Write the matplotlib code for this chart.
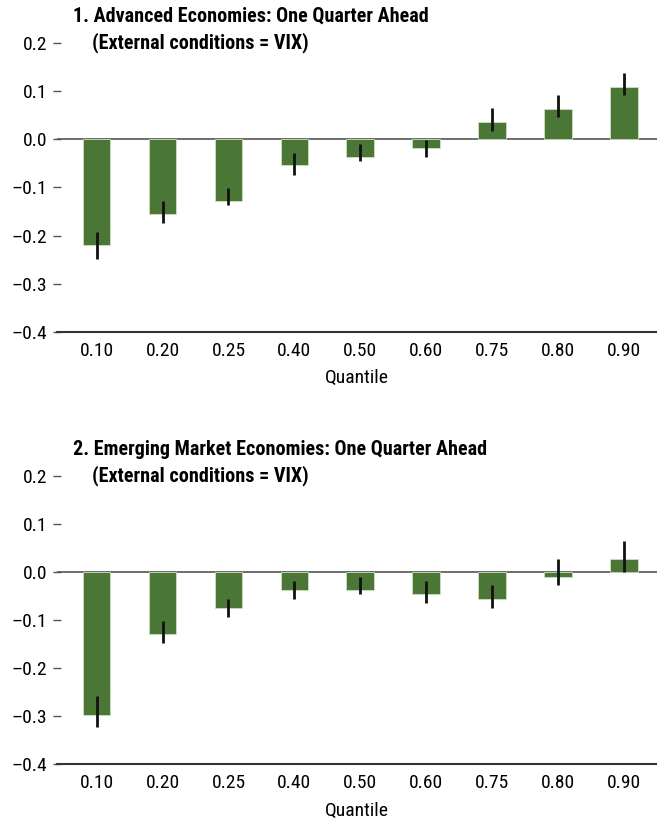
import numpy as np
import matplotlib
matplotlib.use("Agg")
import matplotlib.pyplot as plt

plt.rcParams["font.family"] = ["Roboto Condensed", "Liberation Sans", "DejaVu Sans"]

quantiles = ["0.10", "0.20", "0.25", "0.40", "0.50", "0.60", "0.75", "0.80", "0.90"]

# Panel 1: Advanced Economies
ae_vals = [-0.220, -0.156, -0.128, -0.054, -0.037, -0.019, 0.036, 0.063, 0.109]
ae_lo = [-0.248, -0.174, -0.137, -0.074, -0.046, -0.037, 0.018, 0.046, 0.091]
ae_hi = [-0.193, -0.128, -0.101, -0.028, -0.010, -0.001, 0.064, 0.091, 0.137]

# Panel 2: Emerging Market Economies
em_vals = [-0.297, -0.129, -0.074, -0.037, -0.037, -0.046, -0.056, -0.010, 0.027]
em_lo = [-0.323, -0.148, -0.093, -0.056, -0.046, -0.065, -0.074, -0.028, 0.000]
em_hi = [-0.259, -0.102, -0.056, -0.019, -0.010, -0.019, -0.028, 0.027, 0.064]

titles = [
    ("1. Advanced Economies: One Quarter Ahead", "(External conditions = VIX)"),
    ("2. Emerging Market Economies: One Quarter Ahead", "(External conditions = VIX)"),
]

BAR_COLOR = "#4a7636"
FS = 14
TFS = 14.5

fig = plt.figure(figsize=(6.57, 8.25), dpi=100)
ax1 = fig.add_axes([0.0868, 0.5976, 0.9132, 0.3503])
ax2 = fig.add_axes([0.0868, 0.0739, 0.9132, 0.3491])


def draw_panel(ax, vals, lo, hi, title):
    x = np.arange(len(quantiles))
    vals = np.array(vals); lo = np.array(lo); hi = np.array(hi)
    ax.bar(x, vals, width=0.42, color=BAR_COLOR, edgecolor="#cfe0c0",
           linewidth=0.6, zorder=2)
    ax.vlines(x, lo, hi, color="#111111", lw=2.0, zorder=3)
    ax.axhline(0, color="#555555", lw=1.2, zorder=1)

    ax.set_xlim(-0.6, 8.5)
    ax.set_ylim(-0.4, 0.2)
    yt = [-0.4, -0.3, -0.2, -0.1, 0.0, 0.1, 0.2]
    ax.set_yticks(yt)
    ax.set_yticklabels([f"{v:.1f}".replace("-", "\u2013") for v in yt])
    ax.set_xticks(x)
    ax.set_xticklabels(quantiles)

    for s in ["top", "right", "left"]:
        ax.spines[s].set_visible(False)
    ax.spines["bottom"].set_color("#333333")
    ax.spines["bottom"].set_linewidth(1.5)

    ax.tick_params(axis="y", direction="inout", length=5.5, width=1, color="#555555",
                   pad=4.5, labelsize=FS)
    ax.tick_params(axis="x", length=0, pad=7, labelsize=FS)
    ax.set_xlabel("Quantile", fontsize=FS, labelpad=7)

    ax.text(0.026, 1.093, title[0], transform=ax.transAxes, fontsize=TFS,
            fontweight="bold", ha="left", va="center")
    ax.text(0.058, 1.0, title[1], transform=ax.transAxes, fontsize=TFS,
            fontweight="bold", ha="left", va="center")


draw_panel(ax1, ae_vals, ae_lo, ae_hi, titles[0])
draw_panel(ax2, em_vals, em_lo, em_hi, titles[1])

fig.savefig("out.png", dpi=100)
